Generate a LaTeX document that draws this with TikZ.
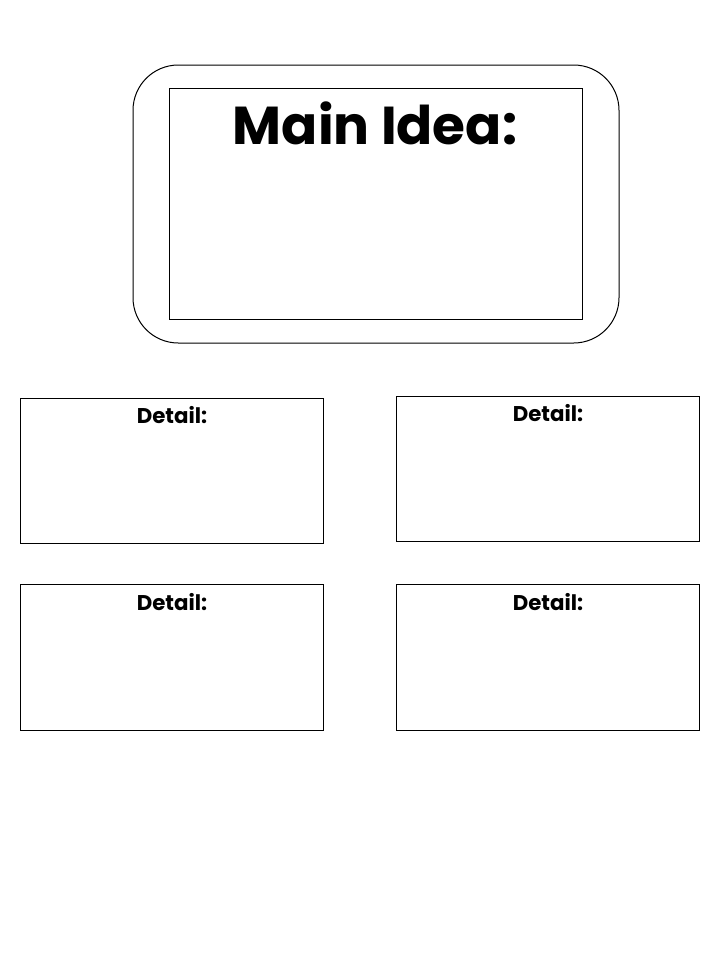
\documentclass[tikz,border=0pt]{standalone}
\usepackage{fontspec}
\newfontfamily\headfont{Poppins}
\usepackage{tikz}

\begin{document}
\begin{tikzpicture}[x=0.75pt,y=-0.75pt,line width=0.75pt,
  title/.style={font=\headfont\bfseries\fontsize{40}{40}\selectfont},
  detail/.style={font=\headfont\bfseries\fontsize{16}{16}\selectfont}]
\useasboundingbox (0,0) rectangle (728,971);
\draw[rounded corners=34pt] (133,65) rectangle (619,343);
\draw (169,88) rectangle (582,319);
\draw (20,398) rectangle (323,543);
\draw (396,396) rectangle (699,541);
\draw (20,584) rectangle (323,730);
\draw (396,584) rectangle (699,730);
\node[title] at (375,123) (main) {Main Idea:};
\node[detail] at (172,415) (1) {Detail:};
\node[detail] at (548,413) (2) {Detail:};
\node[detail] at (172,602) (3) {Detail:};
\node[detail] at (548,602) (4) {Detail:};
\end{tikzpicture}
\end{document}
